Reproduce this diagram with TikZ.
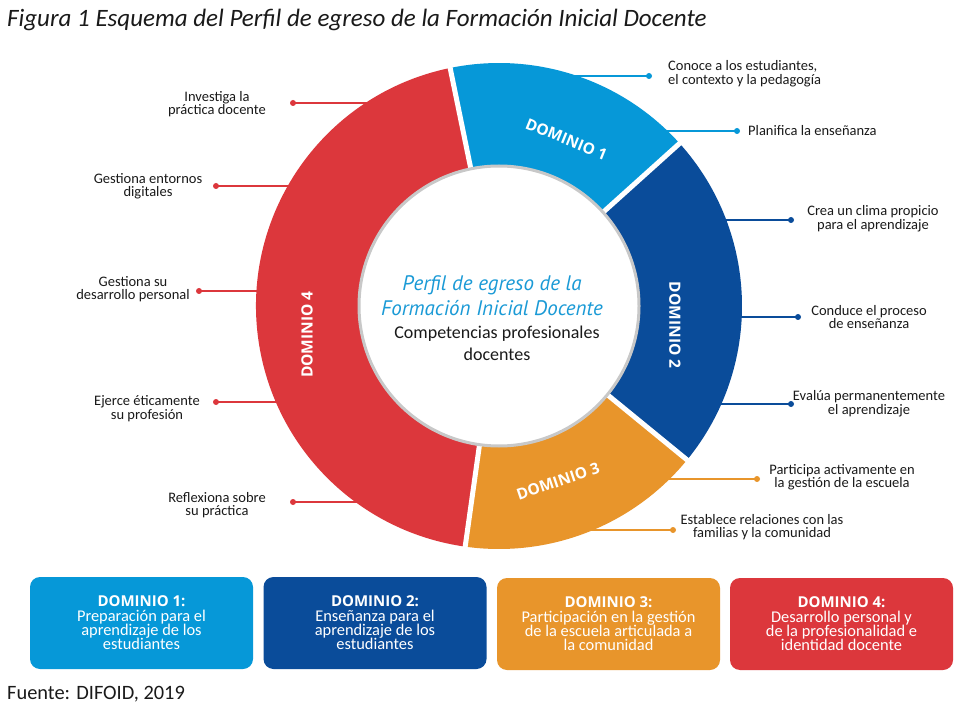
\documentclass[tikz,border=0pt]{standalone}
\usepackage{fontspec}
\setmainfont{Carlito}
\newfontfamily\lblfont{Open Sans}
\newfontfamily\ctrfont{PT Sans}
\newcommand\domheadfont{\lblfont\bfseries\fontsize{15}{14}\selectfont}
\definecolor{dA}{HTML}{0698D8}
\definecolor{dB}{HTML}{0A4C9A}
\definecolor{dC}{HTML}{E8952B}
\definecolor{dD}{HTML}{DC373C}
\definecolor{ctrblue}{HTML}{1A9AD6}
\definecolor{ringgray}{HTML}{C8C8C8}
\definecolor{txt}{HTML}{1A1A1A}
\tikzset{
  lead/.style={font=\fontsize{14.5}{13.5}\selectfont, align=center, inner sep=0pt, text=txt},
  leadline/.style={line width=1.3pt},
  seglbl/.style={font=\lblfont\bfseries\fontsize{15.5}{16}\selectfont, text=white, inner sep=0pt},
  dombox/.style={rounded corners=10pt, minimum width=223pt, minimum height=92pt, align=center, text=white,
    font=\fontsize{16.4}{14.3}\selectfont, inner sep=0pt},
}
\begin{document}
\begin{tikzpicture}[x=1pt,y=-1pt]
\useasboundingbox (0,0) rectangle (966,708);
\fill[white] (0,0) rectangle (966,708);

\node[anchor=west, inner sep=0pt, font=\fontsize{25}{28}\selectfont\itshape, text=txt] (title) at (7,20)
  {Figura 1 Esquema del Perfil de egreso de la Formación Inicial Docente};

% ---- leader lines (drawn below the ring) ----
% left, domain 4
\coordinate (l1d) at (293,103); \coordinate (l1e) at (420,103);
\coordinate (l2d) at (216,186); \coordinate (l2e) at (380,186);
\coordinate (l3d) at (199,291); \coordinate (l3e) at (360,291);
\coordinate (l4d) at (216,402); \coordinate (l4e) at (370,402);
\coordinate (l5d) at (293,502); \coordinate (l5e) at (400,502);
\foreach \n in {l1,l2,l3,l4,l5}{
  \draw[dD, leadline] (\n d) -- (\n e);
  \fill[dD] (\n d) circle[radius=3pt];
}
% right
\coordinate (r1d) at (649,76);  \coordinate (r1e) at (560,76);
\coordinate (r2d) at (737,131); \coordinate (r2e) at (640,131);
\coordinate (r3d) at (791,220); \coordinate (r3e) at (690,220);
\coordinate (r4d) at (798,317); \coordinate (r4e) at (700,317);
\coordinate (r5d) at (791,404); \coordinate (r5e) at (690,404);
\coordinate (r6d) at (757,479); \coordinate (r6e) at (640,479);
\coordinate (r7d) at (673,530); \coordinate (r7e) at (560,530);
\foreach \n in {r1,r2}{
  \draw[dA, leadline] (\n d) -- (\n e);
  \fill[dA] (\n d) circle[radius=3pt];
}
\foreach \n in {r3,r4,r5}{
  \draw[dB, leadline] (\n d) -- (\n e);
  \fill[dB] (\n d) circle[radius=3pt];
}
\foreach \n in {r6,r7}{
  \draw[dC, leadline] (\n d) -- (\n e);
  \fill[dC] (\n d) circle[radius=3pt];
}

% ---- ring ----
\begin{scope}[shift={(499,306)}, y=1pt]
  \fill[dA] (42:243) arc[start angle=42, end angle=101.6, radius=243pt] -- (101.6:137) arc[start angle=101.6, end angle=42, radius=137pt] -- cycle;
  \fill[dD] (101.6:243) arc[start angle=101.6, end angle=262, radius=243pt] -- (262:137) arc[start angle=262, end angle=101.6, radius=137pt] -- cycle;
  \fill[dC] (262:243) arc[start angle=262, end angle=320.7, radius=243pt] -- (320.7:137) arc[start angle=320.7, end angle=262, radius=137pt] -- cycle;
  \fill[dB] (-39.3:243) arc[start angle=-39.3, end angle=42, radius=243pt] -- (42:137) arc[start angle=42, end angle=-39.3, radius=137pt] -- cycle;
  \foreach \a in {42,101.6,-39.3,-98}{
    \draw[white, line width=5pt] (\a:125) -- (\a:252);
  }
  \draw[ringgray, line width=3pt, fill=white] (0,0) circle[radius=140pt];
  \node[seglbl, rotate=-22] (s1) at (68:180) {DOMINIO 1};
  \node[seglbl, rotate=-90] (s2) at (-6.2:177) {DOMINIO 2};
  \node[seglbl, rotate=18.6] (s3) at (-71.4:185) {DOMINIO 3};
  \node[seglbl, rotate=90] (s4) at (188.5:194) {DOMINIO 4};
\end{scope}

\node[align=center, inner sep=0pt, text=ctrblue, font=\ctrfont\itshape\fontsize{21}{25}\selectfont] (ctra) at (492,295.5)
  {Perfil de egreso de la\\ Formación Inicial Docente};
\node[align=center, inner sep=0pt, text=txt, font=\fontsize{18}{22}\selectfont] (ctrb) at (497,343)
  {Competencias profesionales\\ docentes};

% ---- leader texts ----
\node[lead] (t1) at (217,104) {Investiga la\\ práctica docente};
\node[lead] (t2) at (148,186) {Gestiona entornos\\ digitales};
\node[lead] (t3) at (133,289) {Gestiona su\\ desarrollo personal};
\node[lead] (t4) at (147,408.5) {Ejerce éticamente\\ su profesión};
\node[lead] (t5) at (217,505) {Reflexiona sobre\\ su práctica};

\node[lead, align=left, anchor=west] (u1) at (668,73.5) {Conoce a los estudiantes,\\ el contexto y la pedagogía};
\node[lead, anchor=west] (u2) at (748,131) {Planifica la enseñanza};
\node[lead] (u3) at (873,218.5) {Crea un clima propicio\\ para el aprendizaje};
\node[lead] (u4) at (869,317) {Conduce el proceso\\ de enseñanza};
\node[lead] (u5) at (869,403.5) {Evalúa permanentemente\\ el aprendizaje};
\node[lead] (u6) at (842,477) {Participa activamente en\\ la gestión de la escuela};
\node[lead] (u7) at (762,527) {Establece relaciones con las\\ familias y la comunidad};

% ---- bottom boxes ----
\node[dombox, fill=dA] (b1) at (141.5,623) {{\domheadfont DOMINIO 1:}\\ Preparación para el\\ aprendizaje de los\\ estudiantes};
\node[dombox, fill=dB] (b2) at (375,623) {{\domheadfont DOMINIO 2:}\\ Enseñanza para el\\ aprendizaje de los\\ estudiantes};
\node[dombox, fill=dC] (b3) at (608.5,624) {{\domheadfont DOMINIO 3:}\\ Participación en la gestión\\ de la escuela articulada a\\ la comunidad};
\node[dombox, fill=dD] (b4) at (841.5,624) {{\domheadfont DOMINIO 4:}\\ Desarrollo personal y\\ de la profesionalidad e\\ identidad docente};

\node[anchor=west, inner sep=0pt, font=\fontsize{20.4}{22}\selectfont, text=txt] (src) at (7,694) {Fuente: DIFOID, 2019};
\end{tikzpicture}
\end{document}
